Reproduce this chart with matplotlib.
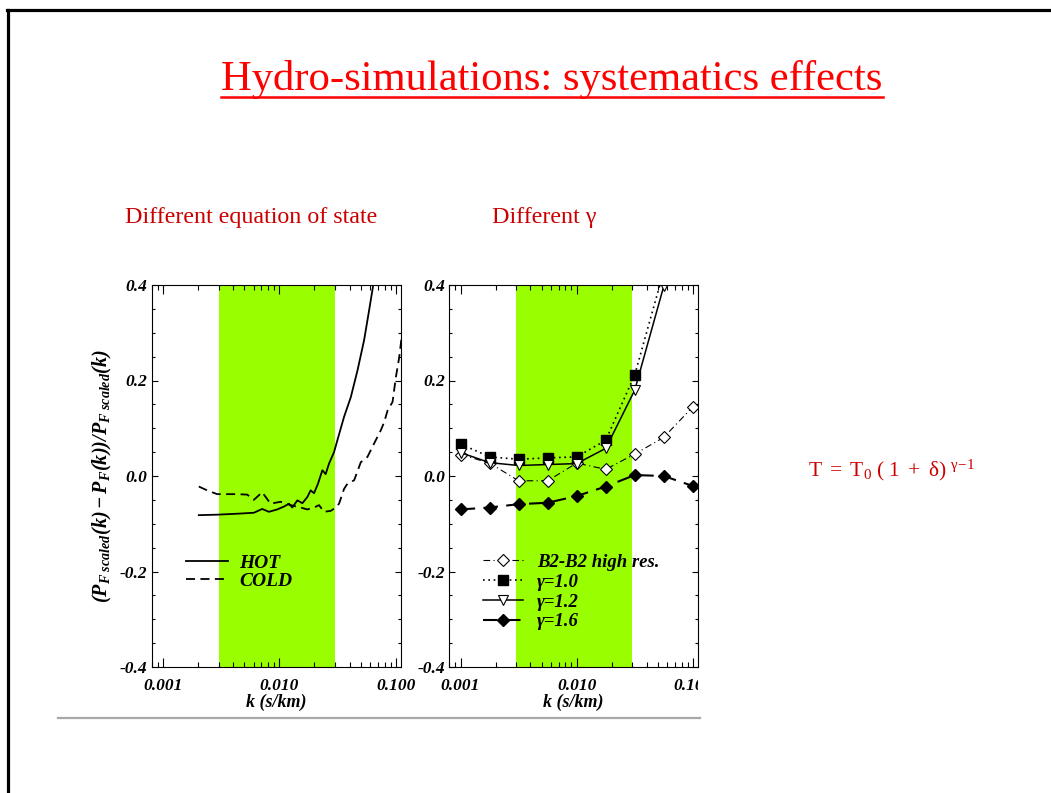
import matplotlib
matplotlib.use("Agg")
import matplotlib.pyplot as plt
from matplotlib.lines import Line2D
from matplotlib.patches import Rectangle
from matplotlib.ticker import FixedLocator, FixedFormatter, LogLocator, MultipleLocator, NullFormatter

# ---------------- data ----------------
hot_k = [0.00203, 0.00292, 0.00434, 0.00603, 0.00711, 0.00812, 0.00958, 0.01094, 0.01208,
         0.01289, 0.01425, 0.01574, 0.01737, 0.01854, 0.01982, 0.02144, 0.02336, 0.02495,
         0.02667, 0.02944, 0.03146, 0.0359, 0.0410, 0.0468, 0.0533, 0.0589, 0.0638, 0.068]
hot_y = [-0.082, -0.081, -0.079, -0.077, -0.069, -0.075, -0.070, -0.064, -0.058,
         -0.066, -0.051, -0.057, -0.044, -0.030, -0.036, -0.016, 0.012, 0.004,
         0.026, 0.050, 0.075, 0.124, 0.165, 0.221, 0.284, 0.347, 0.399, 0.43]

cold_k = [0.00203, 0.00239, 0.00292, 0.00434, 0.00529, 0.00603, 0.00711, 0.00839, 0.01023,
          0.01248, 0.0152, 0.01737, 0.01982, 0.02188, 0.02415, 0.02756, 0.03047, 0.0325,
          0.0359, 0.0384, 0.0438, 0.0500, 0.0570, 0.0650, 0.0743, 0.0794, 0.0848, 0.0936,
          0.100, 0.1069, 0.1120]
cold_y = [-0.022, -0.030, -0.038, -0.038, -0.039, -0.050, -0.034, -0.058, -0.054,
          -0.061, -0.066, -0.070, -0.066, -0.061, -0.075, -0.073, -0.066, -0.058,
          -0.027, -0.016, -0.009, 0.029, 0.040, 0.068, 0.096, 0.113, 0.137, 0.155,
          0.207, 0.249, 0.291]

k_sim = [0.001, 0.00178, 0.00316, 0.00562, 0.01, 0.0178, 0.0316, 0.0562, 0.1]
b2_hr = [0.045, 0.027, -0.010, -0.010, 0.027, 0.014, 0.046, 0.081, 0.145]
g10 = [0.067, 0.040, 0.035, 0.038, 0.040, 0.075, 0.212, 0.43]
g12 = [0.049, 0.028, 0.022, 0.024, 0.026, 0.058, 0.180, 0.398]
g16 = [-0.070, -0.066, -0.059, -0.056, -0.042, -0.022, 0.002, 0.000, -0.021]

band = [0.003, 0.03]
xticks = [0.001, 0.01, 0.1]
xticklabels = ["0.001", "0.010", "0.100"]
yticks = [-0.4, -0.2, 0.0, 0.2, 0.4]
yticklabels = ["-0.4", "-0.2", "0.0", "0.2", "0.4"]

title = "Hydro-simulations: systematics effects"
sub_left = "Different equation of state"
sub_right = "Different \u03b3"

# ---------------- style ----------------
plt.rcParams["font.family"] = ["Liberation Serif", "DejaVu Serif"]
plt.rcParams["axes.unicode_minus"] = False
plt.rcParams["mathtext.fontset"] = "custom"
plt.rcParams["mathtext.rm"] = "Liberation Serif"
plt.rcParams["mathtext.it"] = "Liberation Serif:italic"
plt.rcParams["mathtext.bf"] = "Liberation Serif:italic:bold"

W, H = 1051, 793
fig = plt.figure(figsize=(W / 100, H / 100), dpi=100)
fig.patch.set_facecolor("white")

GREEN = "#99ff00"
TICKFONT = dict(family="Liberation Serif", style="italic", weight="bold", size=12.5)
XLABFONT = dict(family="Liberation Serif", style="italic", weight="bold", size=13)


def px_axes(x0, y0, x1, y1):
    return fig.add_axes([x0 / W, 1 - y1 / H, (x1 - x0) / W, (y1 - y0) / H])


def style_axes(ax):
    ax.set_xscale("log")
    ax.set_xlim(0.0008, 0.11)
    ax.set_ylim(-0.4, 0.4)
    ax.axvspan(band[0], band[1], color=GREEN, lw=0, zorder=0)
    ax.xaxis.set_major_locator(FixedLocator(xticks))
    ax.xaxis.set_major_formatter(FixedFormatter(xticklabels))
    ax.xaxis.set_minor_locator(LogLocator(base=10, subs=range(2, 10)))
    ax.xaxis.set_minor_formatter(NullFormatter())
    ax.yaxis.set_major_locator(FixedLocator(yticks))
    ax.yaxis.set_major_formatter(FixedFormatter(yticklabels))
    ax.yaxis.set_minor_locator(MultipleLocator(0.05))
    ax.tick_params(axis="both", which="both", direction="in", top=True, right=True,
                   color="black", width=0.8)
    ax.tick_params(axis="x", which="major", length=6.5, pad=8)
    ax.tick_params(axis="x", which="minor", length=3.5)
    ax.tick_params(axis="y", which="major", length=4.0, pad=3)
    ax.tick_params(axis="y", which="minor", length=2.3)
    for lbl in ax.get_xticklabels() + ax.get_yticklabels():
        lbl.set_fontproperties(TICKFONT)
    for s in ax.spines.values():
        s.set_linewidth(0.8)
        s.set_color("black")
    ax.set_xlabel("k (s/km)", fontdict=XLABFONT, labelpad=0)


# ---------------- left panel ----------------
ax1 = px_axes(151.7, 285, 400.7, 667)
style_axes(ax1)
ax1.plot(hot_k, hot_y, color="black", lw=1.3, ls="-", label="HOT")
ax1.plot(cold_k, cold_y, color="black", lw=1.3, ls=(0, (5, 3)), label="COLD")
ax1.set_ylabel(r"$\mathbf{(P_{F\ scaled}(k) - P_{F}(k))/P_{F\ scaled}(k)}$",
               fontsize=14.5, labelpad=4)
leg1 = ax1.legend(loc="upper left", bbox_to_anchor=(0.138, 0.296), frameon=False,
                  borderpad=0, borderaxespad=0, handlelength=2.15, handletextpad=0.6,
                  labelspacing=0.05, prop=dict(family="Liberation Serif", style="italic",
                                               weight="bold", size=14))

# ---------------- right panel ----------------
ax2 = px_axes(449.3, 285, 697.7, 667)
style_axes(ax2)
ax2.plot(k_sim, b2_hr, color="black", lw=0.8, ls=(0, (6, 3, 1, 3)), marker="D", ms=6,
         mfc="white", mec="black", mew=0.8, label="B2-B2 high res.")
ax2.plot(k_sim[:len(g10)], g10, color="black", lw=1.2, ls=(0, (1, 2.2)), marker="s", ms=7,
         mfc="black", mec="black", label="\u03b3=1.0")
ax2.plot(k_sim[:len(g12)], g12, color="black", lw=1.1, ls="-", marker="v", ms=7,
         mfc="white", mec="black", mew=0.8, label="\u03b3=1.2")
ax2.plot(k_sim, g16, color="black", lw=1.5, ls=(0, (7, 4)), marker="D", ms=6,
         mfc="black", mec="black", label="\u03b3=1.6")
leg2 = ax2.legend(loc="upper left", bbox_to_anchor=(0.135, 0.297), frameon=False,
                  borderpad=0, borderaxespad=0, handlelength=2.15, handletextpad=0.75,
                  labelspacing=0.15, numpoints=1,
                  prop=dict(family="Liberation Serif", style="italic",
                            weight="bold", size=13.5))

# cut-off tick label at the right edge of the embedded image
fig.patches.append(Rectangle((698 / W, 1 - 700 / H), 60 / W, 30 / H, transform=fig.transFigure,
                             facecolor="white", edgecolor="none", zorder=10))

# ---------------- slide decorations ----------------
fig.add_artist(Line2D([7.5 / W, 7.5 / W], [0, 1 - 10 / H], transform=fig.transFigure,
                      color="black", lw=2.3))
fig.add_artist(Line2D([6.5 / W, 1], [1 - 10 / H, 1 - 10 / H], transform=fig.transFigure,
                      color="black", lw=2.3))
fig.add_artist(Line2D([58 / W, 700 / W], [1 - 717.5 / H, 1 - 717.5 / H],
                      transform=fig.transFigure, color="#a8a8a8", lw=1.6))

t = fig.text(552 / W, 1 - 90 / H, title, ha="center", va="baseline", color="#ff0000",
             fontsize=30.7, family="Liberation Serif")
fig.canvas.draw()
bb = t.get_window_extent(fig.canvas.get_renderer())
fig.add_artist(Line2D([bb.x0 / W, bb.x1 / W], [1 - 97 / H, 1 - 97 / H],
                      transform=fig.transFigure, color="#ff0000", lw=1.8))

fig.text(125 / W, 1 - 223 / H, sub_left, ha="left", va="baseline", color="#cc0000",
         fontsize=17.3, family="Liberation Serif")
fig.text(492 / W, 1 - 223 / H, sub_right, ha="left", va="baseline", color="#cc0000",
         fontsize=17.3, family="Liberation Serif")
fig.text(808 / W, 1 - 476 / H,
         r"$\mathrm{T\ =\ T_0\ (\ 1\ +\ \delta)\ }^{\mathrm{\gamma\!-\!1}}$",
         ha="left", va="baseline", color="#cc0000", fontsize=15.5)

fig.savefig("out.png", dpi=100, facecolor="white")
